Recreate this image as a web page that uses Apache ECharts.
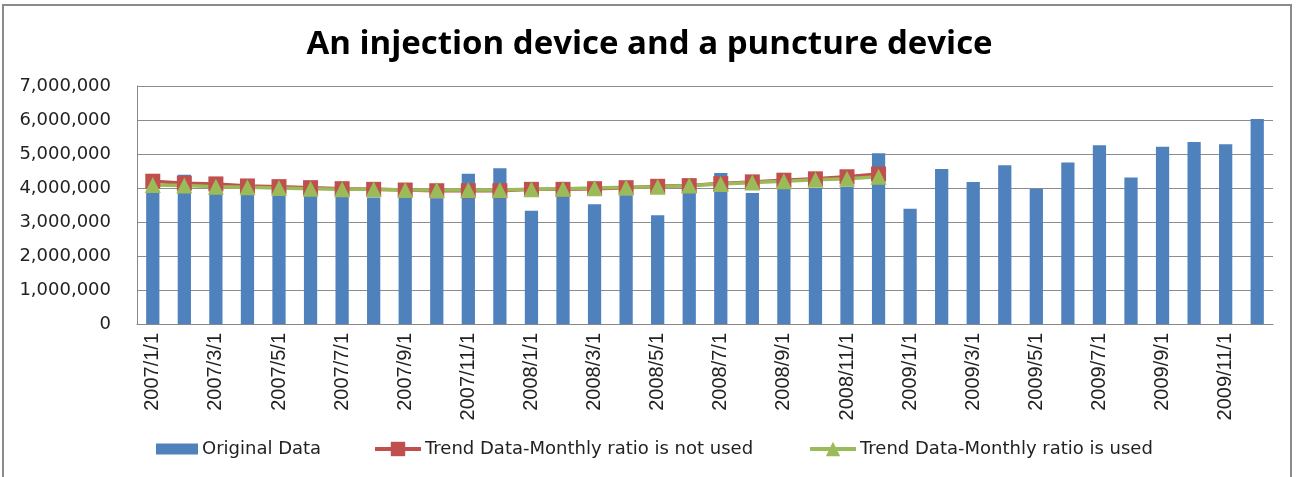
<!DOCTYPE html>
<html>
<head>
<meta charset="utf-8">
<script src="https://cdn.jsdelivr.net/npm/echarts@6/dist/echarts.min.js"></script>
<style>
	html, body { margin: 0; padding: 0; background: #fff; }
	#chart { width: 1299px; height: 477px; }
</style>
</head>
<body>
<div id="chart"></div>
<script>
// months shown on the category axis
var months = [
	'2007/1/1', '2007/2/1', '2007/3/1', '2007/4/1', '2007/5/1', '2007/6/1',
	'2007/7/1', '2007/8/1', '2007/9/1', '2007/10/1', '2007/11/1', '2007/12/1',
	'2008/1/1', '2008/2/1', '2008/3/1', '2008/4/1', '2008/5/1', '2008/6/1',
	'2008/7/1', '2008/8/1', '2008/9/1', '2008/10/1', '2008/11/1', '2008/12/1',
	'2009/1/1', '2009/2/1', '2009/3/1', '2009/4/1', '2009/5/1', '2009/6/1',
	'2009/7/1', '2009/8/1', '2009/9/1', '2009/10/1', '2009/11/1', '2009/12/1'
];
/*原始数据*/
var originalData = [
	3950000, 4390000, 3900000, 3820000, 3800000, 3780000,
	3750000, 3720000, 3720000, 3700000, 4420000, 4580000,
	3330000, 3740000, 3520000, 3790000, 3200000, 3860000,
	4440000, 3850000, 3970000, 4000000, 4040000, 5020000,
	3390000, 4560000, 4180000, 4670000, 3980000, 4750000,
	5260000, 4310000, 5210000, 5350000, 5290000, 6030000
];
/*趋势数据 - 不使用月度比率*/
var trendNoRatio = [
	4200000, 4140000, 4120000, 4060000, 4040000, 4010000,
	3980000, 3960000, 3940000, 3920000, 3920000, 3920000,
	3960000, 3960000, 3980000, 4010000, 4050000, 4070000,
	4130000, 4180000, 4230000, 4270000, 4330000, 4410000
];
/*趋势数据 - 使用月度比率*/
var trendRatio = [
	4090000, 4070000, 4040000, 4020000, 4000000, 3980000,
	3960000, 3960000, 3940000, 3940000, 3940000, 3940000,
	3960000, 3980000, 4000000, 4020000, 4040000, 4070000,
	4120000, 4160000, 4200000, 4240000, 4270000, 4330000
];
var yTicks = [0, 1000000, 2000000, 3000000, 4000000, 5000000, 6000000, 7000000];
var seriesNames = ['Original Data', 'Trend Data-Monthly ratio is not used', 'Trend Data-Monthly ratio is used'];

var textFont = 'DejaVu Sans';
var myChart = echarts.init(document.getElementById('chart'));

var legendText = { color: '#222', fontFamily: textFont, fontSize: 18, padding: [0, 0, 0, -1] };

var option = {
	animation: false,
	color: ['#4F81BD', '#C0504D', '#9BBB59'],
	title: {
		text: 'An injection device and a puncture device',
		left: 'center',
		top: 23,
		textStyle: {
			fontFamily: 'Open Sans',
			fontWeight: 'bold',
			fontSize: 33,
			color: '#000'
		}
	},
	graphic: [{
		type: 'rect',
		shape: { x: 3, y: 5, width: 1288, height: 480 },
		style: { fill: 'none', stroke: '#8a8a8a', lineWidth: 2 },
		silent: true
	}],
	legend: [{
		data: [{ name: seriesNames[0], icon: 'rect' }],
		left: 156, top: 440, padding: 0,
		itemWidth: 42, itemHeight: 11,
		textStyle: legendText
	}, {
		data: [seriesNames[1]],
		left: 373, top: 440, padding: 0,
		itemWidth: 46, itemHeight: 18,
		lineStyle: { width: 4 },
		textStyle: legendText
	}, {
		data: [seriesNames[2]],
		left: 808, top: 440, padding: 0,
		itemWidth: 46, itemHeight: 18,
		lineStyle: { width: 4 },
		textStyle: legendText
	}],
	grid: {
		left: 137,
		right: 26,
		top: 86,
		bottom: 153
	},
	xAxis: {
		type: 'category',
		data: months,
		axisLine: { show: true, lineStyle: { color: '#888', width: 1 } },
		axisTick: { show: false },
		axisLabel: {
			interval: 1,
			rotate: 90,
			margin: 9,
			color: '#222',
			fontFamily: 'Liberation Sans',
			fontSize: 20
		}
	},
	yAxis: {
		type: 'value',
		min: yTicks[0],
		max: yTicks[yTicks.length - 1],
		interval: yTicks[1] - yTicks[0],
		axisLine: { show: true, lineStyle: { color: '#888' } },
		axisTick: { show: false },
		axisLabel: {
			margin: 26,
			color: '#222',
			fontFamily: textFont,
			fontSize: 18,
			formatter: function(v) {
				return v.toLocaleString('en-US');
			}
		},
		splitLine: { show: true, lineStyle: { color: '#8c8c8c', width: 1 } }
	},
	series: [{
		name: seriesNames[0],
		type: 'bar',
		barWidth: '42%',
		data: originalData,
		itemStyle: { color: '#4F81BD' }
	}, {
		name: seriesNames[1],
		type: 'line',
		symbol: 'rect',
		symbolSize: 15,
		data: trendNoRatio,
		lineStyle: { width: 3.5, color: '#C0504D' },
		itemStyle: { color: '#C0504D' }
	}, {
		name: seriesNames[2],
		type: 'line',
		symbol: 'triangle',
		symbolSize: 16,
		data: trendRatio,
		lineStyle: { width: 3.5, color: '#9BBB59' },
		itemStyle: { color: '#9BBB59' }
	}]
};

myChart.setOption(option);
</script>
</body>
</html>
